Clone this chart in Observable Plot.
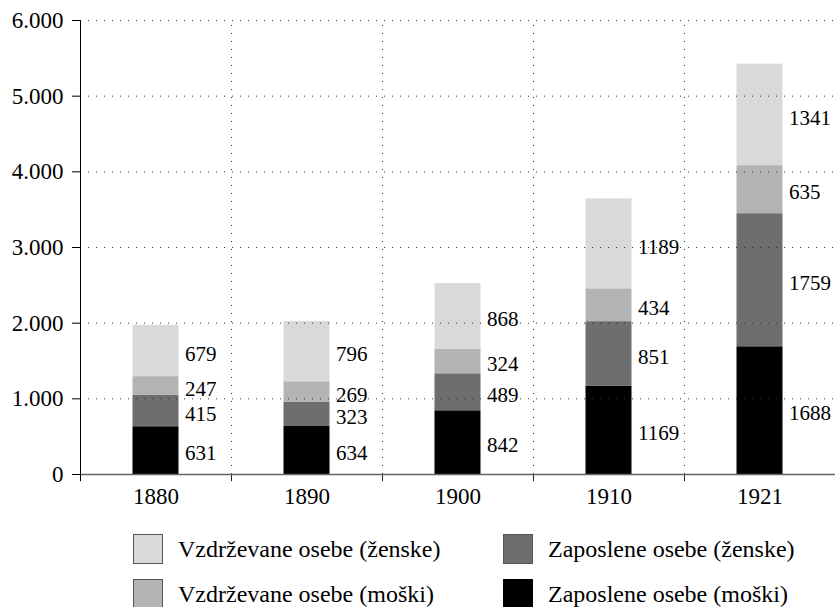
<!DOCTYPE html>
<html><head><meta charset="utf-8">
<script src="https://cdn.jsdelivr.net/npm/d3@7"></script>
<script src="https://cdn.jsdelivr.net/npm/@observablehq/plot@0.6"></script>
<style>
body{margin:0;background:#fff;font-family:"Liberation Serif",serif;}
#wrap{position:relative;width:836px;height:607px;overflow:hidden;}
.leg{position:absolute;display:flex;align-items:center;font-size:24px;color:#000;white-space:nowrap;}
.sw{width:30px;height:30px;box-sizing:border-box;border:1px solid #555;margin-right:15px;}
</style></head><body><div id="wrap"><div id="chart"></div></div>
<script>
const years = ["1880","1890","1900","1910","1921"];
const series = ["Zaposlene osebe (moški)","Zaposlene osebe (ženske)","Vzdrževane osebe (moški)","Vzdrževane osebe (ženske)"];
const zaposleneMoski = [631,634,842,1169,1688];
const zaposleneZenske = [415,323,489,851,1759];
const vzdrzevaneMoski = [247,269,324,434,635];
const vzdrzevaneZenske = [679,796,868,1189,1341];
const colors = ["#000000","#6e6e6e","#b3b3b3","#d9d9d9"];
const yTicks = [0,1000,2000,3000,4000,5000,6000];
const legendOrder = [3,1,2,0];

const valuesBySeries = [zaposleneMoski, zaposleneZenske, vzdrzevaneMoski, vzdrzevaneZenske];
const table = [];
series.forEach((s,i)=> years.forEach((y,j)=> table.push({year:y, series:s, value:valuesBySeries[i][j]})));

const W = 836, H = 520, mL = 80, mR = 1, mT = 20, mB = 46;
const half = (W - mL - mR) / years.length / 2;
const fmt = d => d3.format(",")(d).replace(/,/g, ".");

const chart = Plot.plot({
  width: W, height: H, marginLeft: mL, marginRight: mR, marginTop: mT, marginBottom: mB,
  style: {fontFamily: "Liberation Serif, serif", fontSize: "22px", color: "#000", background: "#fff"},
  x: {domain: years, padding: 0, label: null},
  y: {domain: [0, 6000], label: null},
  color: {domain: series, range: colors},
  marks: [
    Plot.barY(table, Plot.stackY({x: "year", y: "value", fill: "series", order: series, insetLeft: half - 23, insetRight: half - 23})),
    Plot.ruleY(yTicks.filter(d => d > 0), {stroke: "#333", strokeDasharray: "1,7"}),
    Plot.ruleX(years.slice(1), {x: d => d, dx: -half, y1: 0, y2: 6000, stroke: "#333", strokeDasharray: "1,7"}),
    Plot.ruleX(years.slice(1), {x: d => d, dx: -half, y1: -95, y2: 0, stroke: "#222"}),
    Plot.ruleY([0], {stroke: "#666", strokeWidth: 1.5}),
    Plot.ruleX([years[0]], {x: d => d, dx: -half, y1: -95, y2: 6000, stroke: "#000"}),
    Plot.text(table, Plot.stackY({x: "year", y: "value", z: "series", order: series, text: d => String(d.value), dx: 29, dy: 3, textAnchor: "start", fontSize: 21, fill: "#000"})),
    Plot.axisY({ticks: yTicks, tickFormat: fmt, tickSize: 8, tickPadding: 9, label: null, fontSize: 23}),
    Plot.axisX({tickSize: 0, tickPadding: 13, label: null, fontSize: 23})
  ]
});
document.getElementById("chart").appendChild(chart);

const wrap = document.getElementById("wrap");
const pos = [[133,534],[503,534],[133,579],[503,579]];
legendOrder.forEach((si, k) => {
  const item = document.createElement("div");
  item.className = "leg";
  item.style.left = pos[k][0] + "px";
  item.style.top = pos[k][1] + "px";
  const sw = document.createElement("div");
  sw.className = "sw";
  sw.style.background = colors[si];
  if (si === 0) sw.style.borderColor = "#000";
  item.appendChild(sw);
  const t = document.createElement("span");
  t.textContent = series[si];
  item.appendChild(t);
  wrap.appendChild(item);
});
</script></body></html>
